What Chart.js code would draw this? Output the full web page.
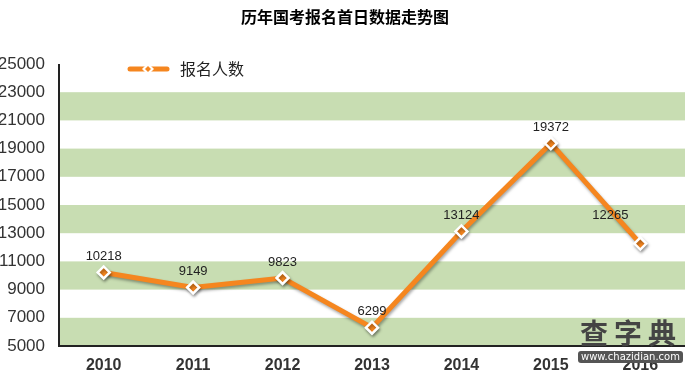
<!DOCTYPE html>
<html>
<head>
<meta charset="utf-8">
<script src="https://cdn.jsdelivr.net/npm/chart.js@4/dist/chart.umd.min.js"></script>
<style>
  body { margin: 0; background: #fff; }
  #wrap { position: relative; width: 689px; height: 370px; overflow: hidden; }
  #logo { position: absolute; left: 535px; top: 318px; font-family: "Noto Sans CJK SC"; }
  #logo .big { position: absolute; left: 45px; top: -6px; font-size: 28px; font-weight: bold; color: #444; letter-spacing: 6px; white-space: nowrap; }
  #logo .url { position: absolute; left: 43px; top: 33px; background: #555; color: #fff; font: 10px "DejaVu Sans"; padding: 0 3px; border-radius: 3px; white-space: nowrap; line-height: 12px; }
</style>
</head>
<body>
<div id="wrap">
  <canvas id="myChart" width="689" height="370"></canvas>
  <div id="logo"><span class="big">查字典</span><span class="url">www.chazidian.com</span></div>
</div>
<script>
const titulo = '历年国考报名首日数据走势图'
const serieNombre = '报名人数'
const anios = ['2010', '2011', '2012', '2013', '2014', '2015', '2016']
const valores = [10218, 9149, 9823, 6299, 13124, 19372, 12265]
const bandas = [[5000, 7000], [9000, 11000], [13000, 15000], [17000, 19000], [21000, 23000]]

const naranja = '#f5861f'

/* fondo con franjas verdes y título */
const fondoPlugin = {
  id: 'fondo',
  beforeDatasetsDraw(chart) {
    const { ctx, chartArea, scales } = chart
    ctx.save()
    ctx.fillStyle = '#c8ddb2'
    bandas.forEach(([a, b]) => {
      const y1 = scales.y.getPixelForValue(b)
      const y2 = scales.y.getPixelForValue(a)
      ctx.fillRect(chartArea.left, y1, chartArea.right - chartArea.left, y2 - y1)
    })
    // ejes
    ctx.strokeStyle = '#222'
    ctx.lineWidth = 2
    ctx.beginPath()
    ctx.moveTo(chartArea.left, chartArea.top)
    ctx.lineTo(chartArea.left, chartArea.bottom)
    ctx.lineTo(chartArea.right, chartArea.bottom)
    ctx.stroke()
    ctx.restore()
  },
  afterDraw(chart) {
    const { ctx } = chart
    ctx.save()
    ctx.fillStyle = '#000'
    ctx.font = 'bold 16px "Noto Sans CJK SC"'
    ctx.textAlign = 'center'
    ctx.textBaseline = 'middle'
    ctx.fillText(titulo, 345, 17)
    // leyenda
    ctx.strokeStyle = naranja
    ctx.lineWidth = 5
    ctx.lineCap = 'round'
    ctx.beginPath()
    ctx.moveTo(130, 69)
    ctx.lineTo(167, 69)
    ctx.stroke()
    ctx.fillStyle = '#fff'
    ctx.beginPath()
    ctx.moveTo(148, 63); ctx.lineTo(154, 69); ctx.lineTo(148, 75); ctx.lineTo(142, 69)
    ctx.closePath(); ctx.fill()
    ctx.fillStyle = naranja
    ctx.beginPath()
    ctx.moveTo(148, 66); ctx.lineTo(151, 69); ctx.lineTo(148, 72); ctx.lineTo(145, 69)
    ctx.closePath(); ctx.fill()
    ctx.fillStyle = '#222'
    ctx.font = '16px "Noto Sans CJK SC"'
    ctx.textAlign = 'left'
    ctx.fillText(serieNombre, 180, 69)
    // etiquetas de datos
    ctx.font = '13px "Liberation Sans"'
    ctx.textAlign = 'center'
    ctx.textBaseline = 'middle'
    const meta = chart.getDatasetMeta(0)
    meta.data.forEach((pt, i) => {
      let dx = 0, dy = -16
      if (i === valores.length - 1) { dx = -30; dy = -28 }
      ctx.fillText(String(valores[i]), pt.x + dx, pt.y + dy)
    })
    ctx.restore()
  },
  beforeDatasetDraw(chart) {
    const ctx = chart.ctx
    ctx.save()
    ctx.shadowColor = 'rgba(0,0,0,0.35)'
    ctx.shadowBlur = 3
    ctx.shadowOffsetX = 1
    ctx.shadowOffsetY = 2
  },
  afterDatasetDraw(chart) {
    chart.ctx.restore()
  }
}

const config = {
  type: 'line',
  data: {
    labels: anios,
    datasets: [{
      label: serieNombre,
      data: valores,
      borderColor: naranja,
      borderWidth: 5,
      tension: 0,
      pointStyle: 'rectRot',
      pointRadius: 6,
      pointBorderWidth: 2.5,
      pointBorderColor: '#fff',
      pointBackgroundColor: naranja
    }]
  },
  options: {
    responsive: false,
    animation: false,
    layout: { autoPadding: false, padding: { top: 64, right: 4, left: 0, bottom: 0 } },
    plugins: { legend: { display: false }, tooltip: { enabled: false } },
    scales: {
      x: {
        offset: true,
        grid: { display: false },
        border: { display: false },
        ticks: { color: '#333', font: { family: 'Liberation Sans', size: 16, weight: 'bold' }, padding: 2, maxRotation: 0 },
        afterFit(s) { s.height = 24; s.paddingRight = 0; s.paddingLeft = 0 }
      },
      y: {
        min: 5000,
        max: 25000,
        grid: { display: false },
        border: { display: false },
        ticks: {
          stepSize: 2000, color: '#333', font: { family: 'Liberation Sans', size: 17 }, padding: 6,
          callback: (v) => String(v)
        },
        afterFit(s) { s.width = 59 }
      }
    }
  },
  plugins: [fondoPlugin]
}

new Chart(document.getElementById('myChart'), config)
</script>
</body>
</html>
